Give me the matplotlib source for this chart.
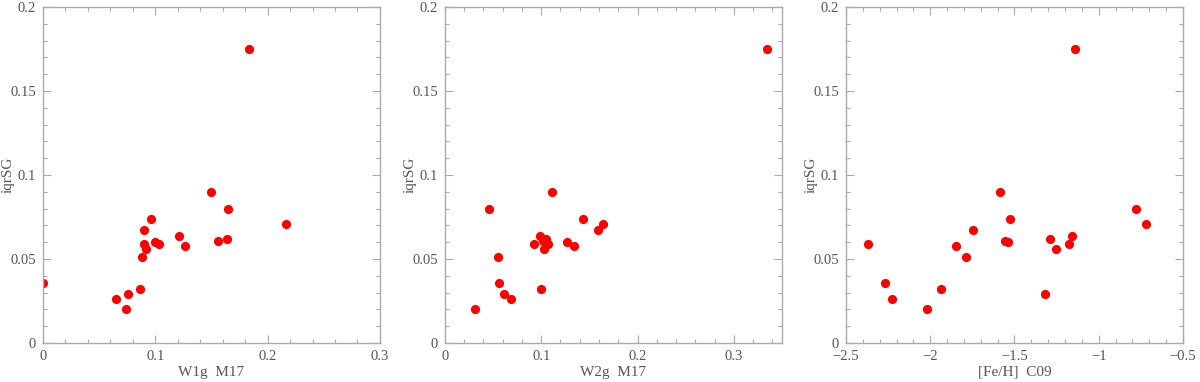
import numpy as np
import matplotlib
matplotlib.use('Agg')
import matplotlib.pyplot as plt
from matplotlib.ticker import MultipleLocator

# iqrSG values (same clusters in each panel)
w1g = [0.000, 0.065, 0.0755, 0.074, 0.0865, 0.0885, 0.090, 0.090, 0.092, 0.096,
       0.100, 0.103, 0.121, 0.1265, 0.150, 0.156, 0.1635, 0.165, 0.183, 0.216]
iqr1 = [0.036, 0.026, 0.029, 0.020, 0.032, 0.051, 0.067, 0.059, 0.056, 0.074,
        0.060, 0.059, 0.064, 0.058, 0.090, 0.061, 0.062, 0.080, 0.175, 0.071]

w2g = [0.0315, 0.046, 0.055, 0.056, 0.061, 0.0685, 0.093, 0.099, 0.100, 0.103,
       0.105, 0.107, 0.111, 0.127, 0.134, 0.143, 0.159, 0.164, 0.3346, 0.102]
iqr2 = [0.020, 0.080, 0.051, 0.036, 0.029, 0.026, 0.059, 0.064, 0.032, 0.056,
        0.062, 0.059, 0.090, 0.060, 0.058, 0.074, 0.067, 0.071, 0.175, 0.061]

feh = [-2.367, -2.266, -2.227, -2.019, -1.938, -1.849, -1.787, -1.748, -1.587, -1.557,
       -1.536, -1.528, -1.318, -1.288, -1.256, -1.179, -1.157, -1.138, -0.777, -0.718]
iqr3 = [0.059, 0.036, 0.026, 0.020, 0.032, 0.058, 0.051, 0.067, 0.090, 0.061,
        0.060, 0.074, 0.029, 0.062, 0.056, 0.059, 0.064, 0.175, 0.080, 0.071]

txtc = '#555555'
axc = '#aaaaaa'
plt.rcParams['font.family'] = ['Liberation Serif', 'DejaVu Serif']

fig = plt.figure(figsize=(12, 3.82), dpi=100)

panels = [
    (0.0358, w1g, iqr1, 'W1g  M17', (0, 0.3), 0.1, 0.02),
    (0.3708, w2g, iqr2, 'W2g  M17', (0, 0.35), 0.1, 0.02),
    (0.7050, feh, iqr3, '[Fe/H]  C09', (-2.5, -0.5), 0.5, 0.1),
]

def fmt(v, pos):
    s = '%g' % v
    return s.replace('-', '\u2212')

for left, xs, ys, xl, xlim, maj, mnr in panels:
    ax = fig.add_axes([left, 0.102, 0.2808, 0.8796])
    ax.plot(xs, ys, 'o', color='red', markersize=6.6, markeredgewidth=0)
    ax.set_xlim(*xlim)
    ax.set_ylim(0, 0.2)
    ax.xaxis.set_major_locator(MultipleLocator(maj))
    ax.xaxis.set_minor_locator(MultipleLocator(mnr))
    ax.yaxis.set_major_locator(MultipleLocator(0.05))
    ax.yaxis.set_minor_locator(MultipleLocator(0.01))
    ax.xaxis.set_major_formatter(plt.FuncFormatter(fmt))
    ax.yaxis.set_major_formatter(plt.FuncFormatter(fmt))
    ax.tick_params(which='both', direction='in', top=True, right=True,
                   color=axc, labelcolor=txtc, labelsize=10.5, width=0.8)
    ax.tick_params(which='major', length=6, pad=5)
    ax.tick_params(which='minor', length=3)
    for sp in ax.spines.values():
        sp.set_color(axc)
        sp.set_linewidth(1.0)
    ax.set_xlabel(xl, color=txtc, fontsize=11, labelpad=2)
    ax.set_ylabel('iqrSG', color=txtc, fontsize=11)
    ax.yaxis.set_label_coords(-0.085, 0.5)

fig.savefig('out.png', dpi=100)
